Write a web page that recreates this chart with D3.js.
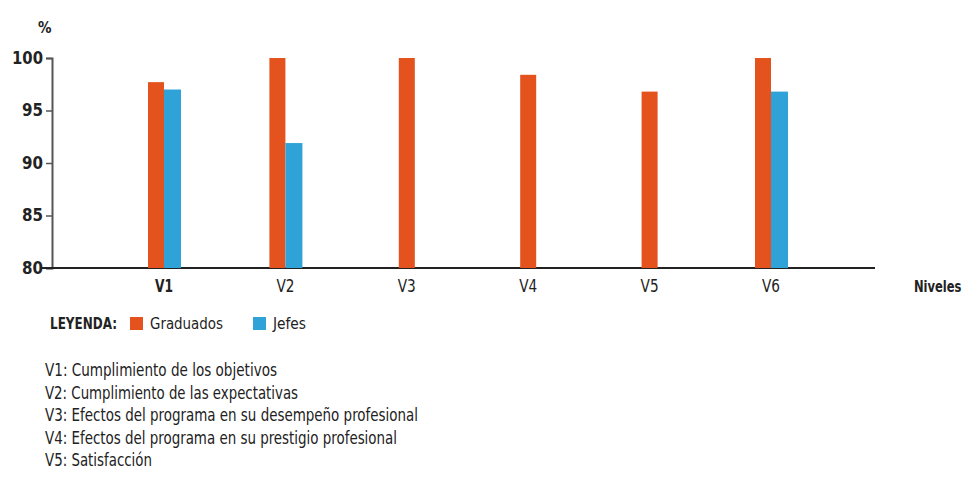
<!DOCTYPE html>
<html><head><meta charset="utf-8">
<script src="https://cdn.jsdelivr.net/npm/d3@7"></script>
<style>
body{margin:0;background:#fff;}
svg text{font-family:"Liberation Sans Narrow","DejaVu Sans Condensed","Roboto Condensed",sans-serif;fill:#222;}
</style></head>
<body><svg id="c" width="971" height="493"></svg>
<script>
const categories = ["V1","V2","V3","V4","V5","V6"];
const graduados = [97.7, 100, 100, 98.4, 96.8, 100];
const jefes = [97.0, 91.9, null, null, null, 96.8];
const yTicks = [80, 85, 90, 95, 100];
const seriesNames = ["Graduados","Jefes"];
const descriptions = [
  "V1: Cumplimiento de los objetivos",
  "V2: Cumplimiento de las expectativas",
  "V3: Efectos del programa en su desempeño profesional",
  "V4: Efectos del programa en su prestigio profesional",
  "V5: Satisfacción"
];
const colors = {Graduados:"#e4521d", Jefes:"#2fa3d8"};

const svg = d3.select("#c");
const x = d3.scalePoint().domain(categories).range([164, 771]);
const y = d3.scaleLinear().domain([80, 100]).range([268, 58]);
const bw = 16;

// y axis
const yAxis = svg.append("g").attr("transform","translate(52,0)")
  .call(d3.axisLeft(y).tickValues(yTicks).tickSize(6).tickPadding(3));
yAxis.select(".domain").attr("stroke","#555").attr("stroke-width",2);
yAxis.selectAll(".tick line").attr("stroke","#555").attr("stroke-width",1.5);
yAxis.selectAll(".tick text").attr("font-size",17).attr("font-weight","bold").attr("fill","#444")
  .attr("textLength", d => d >= 100 ? 31 : 21).attr("lengthAdjust","spacingAndGlyphs");

// x axis line
svg.append("line").attr("x1",42).attr("x2",875).attr("y1",y(80)).attr("y2",y(80))
  .attr("stroke","#222").attr("stroke-width",2);

// bars
const data = categories.map((c,i)=>({c, g:graduados[i], j:jefes[i]}));
const gb = svg.append("g");
data.forEach(d=>{
  const cx = x(d.c);
  if (d.j == null) {
    gb.append("rect").attr("x",cx-bw/2).attr("width",bw)
      .attr("y",y(d.g)).attr("height",y(80)-y(d.g)).attr("fill",colors.Graduados);
  } else {
    gb.append("rect").attr("x",cx-bw).attr("width",bw)
      .attr("y",y(d.g)).attr("height",y(80)-y(d.g)).attr("fill",colors.Graduados);
    gb.append("rect").attr("x",cx).attr("width",bw+1)
      .attr("y",y(d.j)).attr("height",y(80)-y(d.j)).attr("fill",colors.Jefes);
  }
});

// category labels
svg.append("g").selectAll("text").data(categories).join("text")
  .attr("x",d=>x(d)).attr("y",292).attr("text-anchor","middle")
  .attr("font-size",17).attr("font-weight",(d,i)=>i===0?"bold":"normal").attr("fill","#333")
  .attr("textLength",18).attr("lengthAdjust","spacingAndGlyphs").text(d=>d);

svg.append("text").attr("transform","translate(914,292) scale(0.8,1)")
  .attr("font-size",16).attr("font-weight","bold").text("Niveles");
svg.append("text").attr("x",38).attr("y",33).attr("font-size",15).attr("font-weight","bold").text("%");

// legend
svg.append("text").attr("x",50).attr("y",329).attr("font-size",16).attr("font-weight","bold")
  .attr("textLength",67).attr("lengthAdjust","spacingAndGlyphs").text("LEYENDA:");
const legX = [130, 253];
const legW = [73, 33];
seriesNames.forEach((s,i)=>{
  svg.append("rect").attr("x",legX[i]).attr("y",317).attr("width",13).attr("height",13).attr("fill",colors[s]);
  svg.append("text").attr("x",legX[i]+20).attr("y",329).attr("font-size",16)
    .attr("textLength",legW[i]).attr("lengthAdjust","spacingAndGlyphs").text(s);
});

// descriptions
const descW = [232, 253, 373, 352, 107];
svg.append("g").selectAll("text").data(descriptions).join("text")
  .attr("x",45).attr("y",(d,i)=>376 + i*22.5).attr("font-size",17)
  .attr("textLength",(d,i)=>descW[i]).attr("lengthAdjust","spacingAndGlyphs").text(d=>d);
</script></body></html>
